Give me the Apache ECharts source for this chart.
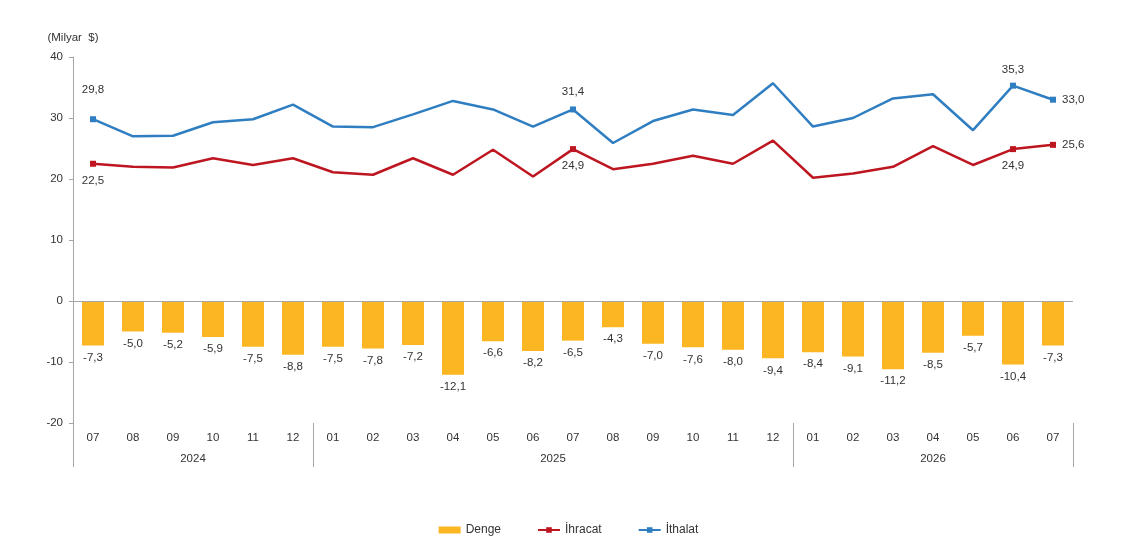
<html>
  <head>
    <meta charset="utf-8">
    <title>Dış ticaret</title>
    <script src="https://cdn.jsdelivr.net/npm/echarts@6.0.0/dist/echarts.min.js"></script>
    <style>
      html, body { margin: 0; padding: 0; background: #fff; }
      #main { width: 1137px; height: 548px; }
    </style>
  </head>
  <body>
    <div id="main"></div>
    <script type="text/javascript">
      // veriler
      var aylar = ['07', '08', '09', '10', '11', '12', '01', '02', '03', '04', '05', '06',
                   '07', '08', '09', '10', '11', '12', '01', '02', '03', '04', '05', '06', '07'];
      var yillar = ['2024', '2025', '2026'];
      var denge = [-7.3, -5.0, -5.2, -5.9, -7.5, -8.8, -7.5, -7.8, -7.2, -12.1, -6.6, -8.2,
                   -6.5, -4.3, -7.0, -7.6, -8.0, -9.4, -8.4, -9.1, -11.2, -8.5, -5.7, -10.4, -7.3];
      var ihracat = [22.5, 22.0, 21.9, 23.4, 22.3, 23.4, 21.1, 20.7, 23.4, 20.7, 24.8, 20.4,
                     24.9, 21.6, 22.5, 23.8, 22.5, 26.3, 20.2, 20.9, 22.0, 25.4, 22.3, 24.9, 25.6];
      var ithalat = [29.8, 27.0, 27.1, 29.3, 29.8, 32.2, 28.6, 28.5, 30.6, 32.8, 31.4, 28.6,
                     31.4, 25.9, 29.5, 31.4, 30.5, 35.7, 28.6, 30.0, 33.2, 33.9, 28.0, 35.3, 33.0];

      // etiketli noktalar: index -> konum
      var ihracatEtiket = { 0: ['bottom', 8], 12: ['bottom', 8], 23: ['bottom', 8], 24: ['right', 6] };
      var ithalatEtiket = { 0: ['top', 20], 12: ['top', 9], 23: ['top', 7], 24: ['right', 6] };

      function virgul(v) { return v.toFixed(1).replace('.', ','); }

      function cizgiVerisi(values, etiket) {
        return values.map(function (v, i) {
          if (etiket[i]) {
            return { value: v, label: { show: true, position: etiket[i][0], distance: etiket[i][1] } };
          }
          return { value: v, symbol: 'none' };
        });
      }

      // yıl grupları: '01' ile başlayan sınırlar
      var sinirlar = [0];
      aylar.forEach(function (a, i) { if (a === '01') sinirlar.push(i); });
      sinirlar.push(aylar.length);
      var yilMerkez = {};
      for (var k = 0; k < yillar.length; k++) {
        yilMerkez[(sinirlar[k] + sinirlar[k + 1]) / 2] = yillar[k];
      }

      var font = 'Liberation Sans, Arial, sans-serif';
      var yazi = { fontFamily: font, fontSize: 11.5, color: '#333' };

      var chartDom = document.getElementById('main');
      var myChart = echarts.init(chartDom);
      var option;

      option = {
        animation: false,
        textStyle: { fontFamily: font },
        grid: { left: 73, right: 64, top: 57, bottom: 125, containLabel: false },
        legend: {
          bottom: 7,
          left: 'center',
          itemWidth: 22,
          itemHeight: 7,
          itemGap: 36,
          textStyle: { fontFamily: font, fontSize: 12, color: '#333' },
          data: [{ name: 'Denge', icon: 'rect' }, 'İhracat', 'İthalat']
        },
        xAxis: [
          {
            type: 'category',
            data: aylar,
            position: 'bottom',
            axisLine: { show: false, onZero: false },
            axisTick: {
              show: true,
              length: 44,
              lineStyle: { color: '#a6a6a6' },
              interval: function (index, value) { return index === 0 || value === '01'; }
            },
            axisLabel: Object.assign({ interval: 0, margin: 9 }, yazi),
            splitLine: { show: false }
          },
          {
            type: 'value',
            min: 0,
            max: aylar.length,
            interval: 0.5,
            position: 'bottom',
            axisLine: { show: false, onZero: false },
            axisTick: { show: false },
            splitLine: { show: false },
            axisLabel: Object.assign({
              margin: 30,
              showMinLabel: true,
              showMaxLabel: true,
              formatter: function (v) { return yilMerkez[v] || ''; }
            }, yazi)
          }
        ],
        yAxis: {
          type: 'value',
          min: -20,
          max: 40,
          interval: 10,
          name: '(Milyar  $)',
          nameLocation: 'end',
          nameGap: 13,
          nameTextStyle: { fontFamily: font, fontSize: 11.5, color: '#333', align: 'center' },
          axisLine: { show: true, lineStyle: { color: '#a6a6a6' } },
          axisTick: { show: true, length: 4, lineStyle: { color: '#a6a6a6' } },
          axisLabel: Object.assign({ margin: 10 }, yazi),
          splitLine: { show: false }
        },
        series: [
          {
            name: 'Denge',
            type: 'bar',
            data: denge,
            barWidth: 22,
            itemStyle: { color: '#FBB621' },
            label: {
              show: true,
              position: 'bottom',
              distance: 6,
              fontFamily: font,
              fontSize: 11.5,
              color: '#333',
              formatter: function (p) { return virgul(p.value); }
            },
            markLine: {
              silent: true,
              symbol: 'none',
              label: { show: false },
              lineStyle: { color: '#a6a6a6', type: 'solid', width: 1 },
              data: [{ yAxis: 0 }]
            }
          },
          {
            name: 'İhracat',
            type: 'line',
            data: cizgiVerisi(ihracat, ihracatEtiket),
            symbol: 'rect',
            symbolSize: 6,
            showAllSymbol: true,
            color: '#BE1620',
            lineStyle: { width: 2.5, color: '#BE1620' },
            itemStyle: { color: '#BE1620' },
            label: {
              show: false,
              fontFamily: font,
              fontSize: 11.5,
              color: '#333',
              formatter: function (p) { return virgul(p.value); }
            },
            z: 3
          },
          {
            name: 'İthalat',
            type: 'line',
            data: cizgiVerisi(ithalat, ithalatEtiket),
            symbol: 'rect',
            symbolSize: 6,
            showAllSymbol: true,
            color: '#2F7EC1',
            lineStyle: { width: 2.5, color: '#2F7EC1' },
            itemStyle: { color: '#2F7EC1' },
            label: {
              show: false,
              fontFamily: font,
              fontSize: 11.5,
              color: '#333',
              formatter: function (p) { return virgul(p.value); }
            },
            z: 3
          }
        ]
      };

      option && myChart.setOption(option);
    </script>
  </body>
</html>
